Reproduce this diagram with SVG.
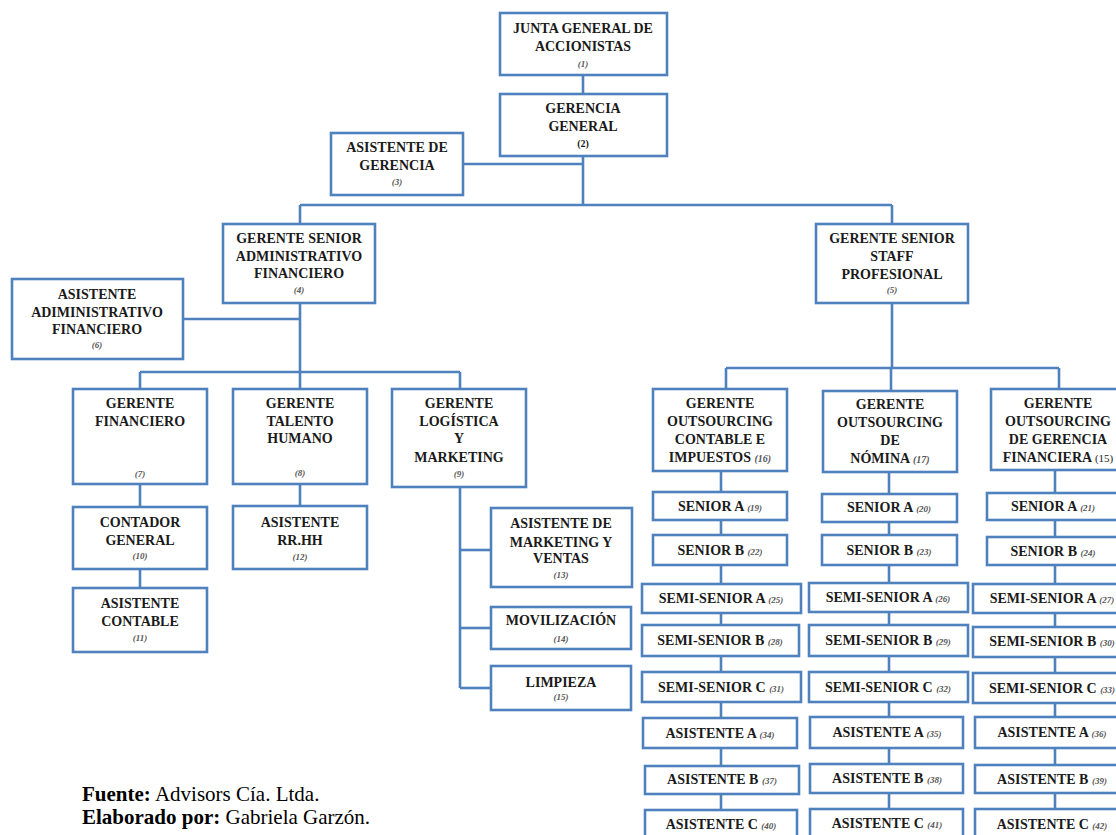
<svg xmlns="http://www.w3.org/2000/svg" width="1116" height="835" viewBox="0 0 1116 835" font-family="Liberation Serif, Times New Roman, serif">
  <style>
    .box { fill: #ffffff; stroke: #4F81BD; stroke-width: 2.6; }
    .wire { fill: none; stroke: #4F81BD; stroke-width: 2.6; }
    .t { font-weight: bold; font-size: 14px; text-anchor: middle; fill: #1a1a1a; }
    .n { font-style: italic; font-size: 9px; fill: #555555; }
    .nr { font-style: normal; font-size: 11px; font-weight: normal; fill: #1a1a1a; }
    .foot { font-size: 21px; fill: #000000; }
  </style>
  <rect width="1116" height="835" fill="#ffffff"/>

  <!-- connectors -->
  <g id="connectors" class="wire">
    <path d="M583 75 V205"/>
    <path d="M463 164 H583"/>
    <path d="M300 205 H892"/>
    <path d="M300 205 V224"/>
    <path d="M892 205 V224"/>
    <!-- administrative branch -->
    <path d="M300 303 V389"/>
    <path d="M183 319 H300"/>
    <path d="M140 372 H460"/>
    <path d="M140 372 V588"/>
    <path d="M460 372 V688"/>
    <path d="M460 550 H491"/>
    <path d="M460 628 H491"/>
    <path d="M460 688 H491"/>
    <path d="M300 484 V506"/>
    <!-- professional staff branch -->
    <path d="M892 303 V368"/>
    <path d="M726 368 H1059"/>
    <path d="M726 368 V389"/>
    <path d="M891 368 V391"/>
    <path d="M1059 368 V389"/>
    <path d="M721 471 V835"/>
    <path d="M889 472 V835"/>
    <path d="M1055 470 V835"/>
  </g>

  <g id="n1"><rect class="box" x="500" y="13" width="167" height="62"/>
    <text class="t" x="583" y="33">JUNTA GENERAL DE</text>
    <text class="t" x="583" y="51">ACCIONISTAS</text>
    <text class="t n" x="583" y="67">(1)</text></g>

  <g id="n2"><rect class="box" x="500" y="94" width="167" height="62"/>
    <text class="t" x="583" y="113">GERENCIA</text>
    <text class="t" x="583" y="131">GENERAL</text>
    <text class="t" x="583" y="147" style="font-size:10px">(2)</text></g>

  <g id="n3"><rect class="box" x="331" y="133" width="132" height="62"/>
    <text class="t" x="397" y="152">ASISTENTE DE</text>
    <text class="t" x="397" y="170">GERENCIA</text>
    <text class="t n" x="397" y="185">(3)</text></g>

  <g id="n4"><rect class="box" x="223" y="224" width="152" height="79"/>
    <text class="t" x="299" y="243">GERENTE SENIOR</text>
    <text class="t" x="299" y="261">ADMINISTRATIVO</text>
    <text class="t" x="299" y="278">FINANCIERO</text>
    <text class="t n" x="299" y="293">(4)</text></g>

  <g id="n5"><rect class="box" x="816" y="224" width="152" height="79"/>
    <text class="t" x="892" y="243">GERENTE SENIOR</text>
    <text class="t" x="892" y="261">STAFF</text>
    <text class="t" x="892" y="279">PROFESIONAL</text>
    <text class="t n" x="892" y="293">(5)</text></g>

  <g id="n6"><rect class="box" x="12" y="279" width="171" height="80"/>
    <text class="t" x="97" y="299">ASISTENTE</text>
    <text class="t" x="97" y="317">ADIMINISTRATIVO</text>
    <text class="t" x="97" y="334">FINANCIERO</text>
    <text class="t n" x="97" y="348">(6)</text></g>

  <g id="n7"><rect class="box" x="73" y="389" width="134" height="95"/>
    <text class="t" x="140" y="408">GERENTE</text>
    <text class="t" x="140" y="426">FINANCIERO</text>
    <text class="t n" x="140" y="477">(7)</text></g>

  <g id="n8"><rect class="box" x="233" y="389" width="134" height="95"/>
    <text class="t" x="300" y="408">GERENTE</text>
    <text class="t" x="300" y="426">TALENTO</text>
    <text class="t" x="300" y="443">HUMANO</text>
    <text class="t n" x="300" y="476">(8)</text></g>

  <g id="n9"><rect class="box" x="392" y="389" width="134" height="98"/>
    <text class="t" x="459" y="408">GERENTE</text>
    <text class="t" x="459" y="426">LOGÍSTICA</text>
    <text class="t" x="459" y="443">Y</text>
    <text class="t" x="459" y="462">MARKETING</text>
    <text class="t n" x="459" y="477">(9)</text></g>

  <g id="n10"><rect class="box" x="73" y="507" width="134" height="62"/>
    <text class="t" x="140" y="527">CONTADOR</text>
    <text class="t" x="140" y="545">GENERAL</text>
    <text class="t n" x="140" y="559">(10)</text></g>

  <g id="n11"><rect class="box" x="73" y="588" width="134" height="64"/>
    <text class="t" x="140" y="608">ASISTENTE</text>
    <text class="t" x="140" y="626">CONTABLE</text>
    <text class="t n" x="140" y="641">(11)</text></g>

  <g id="n12"><rect class="box" x="233" y="506" width="134" height="63"/>
    <text class="t" x="300" y="527">ASISTENTE</text>
    <text class="t" x="300" y="545">RR.HH</text>
    <text class="t n" x="300" y="560">(12)</text></g>

  <g id="n13"><rect class="box" x="491" y="508" width="141" height="79"/>
    <text class="t" x="561" y="528">ASISTENTE DE</text>
    <text class="t" x="561" y="547">MARKETING Y</text>
    <text class="t" x="561" y="563">VENTAS</text>
    <text class="t n" x="561" y="578">(13)</text></g>

  <g id="n14"><rect class="box" x="491" y="607" width="140" height="42"/>
    <text class="t" x="561" y="625">MOVILIZACIÓN</text>
    <text class="t n" x="561" y="642">(14)</text></g>

  <g id="n15"><rect class="box" x="491" y="666" width="140" height="44"/>
    <text class="t" x="561" y="687">LIMPIEZA</text>
    <text class="t n" x="561" y="700">(15)</text></g>

  <!-- outsourcing managers -->
  <g id="n16"><rect class="box" x="653" y="389" width="134" height="82"/>
    <text class="t" x="720" y="408">GERENTE</text>
    <text class="t" x="720" y="426">OUTSOURCING</text>
    <text class="t" x="720" y="444">CONTABLE E</text>
    <text class="t" x="720" y="462">IMPUESTOS <tspan class="n" style="font-size:10px">(16)</tspan></text></g>

  <g id="n17"><rect class="box" x="823" y="391" width="134" height="81"/>
    <text class="t" x="890" y="409">GERENTE</text>
    <text class="t" x="890" y="427">OUTSOURCING</text>
    <text class="t" x="890" y="445">DE</text>
    <text class="t" x="890" y="463">NÓMINA <tspan class="n" style="font-size:10px">(17)</tspan></text></g>

  <g id="n18"><rect class="box" x="991" y="389" width="134" height="81"/>
    <text class="t" x="1058" y="408">GERENTE</text>
    <text class="t" x="1058" y="426">OUTSOURCING</text>
    <text class="t" x="1058" y="444">DE GERENCIA</text>
    <text class="t" x="1058" y="462">FINANCIERA <tspan class="nr">(15)</tspan></text></g>

  <!-- column 1 -->
  <g id="n19"><rect class="box" x="653" y="492" width="134" height="28"/>
    <text class="t" x="720" y="511">SENIOR A  <tspan class="n">(19)</tspan></text></g>
  <g id="n22"><rect class="box" x="653" y="535" width="134" height="30"/>
    <text class="t" x="720" y="555">SENIOR B  <tspan class="n">(22)</tspan></text></g>
  <g id="n25"><rect class="box" x="642" y="584" width="159" height="29"/>
    <text class="t" x="721" y="603">SEMI-SENIOR A  <tspan class="n">(25)</tspan></text></g>
  <g id="n28"><rect class="box" x="642" y="625" width="157" height="31"/>
    <text class="t" x="720" y="645">SEMI-SENIOR B  <tspan class="n">(28)</tspan></text></g>
  <g id="n31"><rect class="box" x="642" y="672" width="159" height="30"/>
    <text class="t" x="721" y="692">SEMI-SENIOR C  <tspan class="n">(31)</tspan></text></g>
  <g id="n34"><rect class="box" x="643" y="718" width="154" height="30"/>
    <text class="t" x="720" y="738">ASISTENTE A  <tspan class="n">(34)</tspan></text></g>
  <g id="n37"><rect class="box" x="645" y="766" width="154" height="28"/>
    <text class="t" x="722" y="784">ASISTENTE B  <tspan class="n">(37)</tspan></text></g>
  <g id="n40"><rect class="box" x="645" y="810" width="152" height="36"/>
    <text class="t" x="721" y="829">ASISTENTE C  <tspan class="n">(40)</tspan></text></g>

  <!-- column 2 -->
  <g id="n20"><rect class="box" x="822" y="494" width="135" height="28"/>
    <text class="t" x="889" y="512">SENIOR A  <tspan class="n">(20)</tspan></text></g>
  <g id="n23"><rect class="box" x="822" y="535" width="135" height="30"/>
    <text class="t" x="889" y="555">SENIOR B  <tspan class="n">(23)</tspan></text></g>
  <g id="n26"><rect class="box" x="809" y="583" width="159" height="29"/>
    <text class="t" x="888" y="602">SEMI-SENIOR A  <tspan class="n">(26)</tspan></text></g>
  <g id="n29"><rect class="box" x="809" y="625" width="159" height="31"/>
    <text class="t" x="888" y="645">SEMI-SENIOR B  <tspan class="n">(29)</tspan></text></g>
  <g id="n32"><rect class="box" x="809" y="672" width="159" height="30"/>
    <text class="t" x="888" y="692">SEMI-SENIOR C  <tspan class="n">(32)</tspan></text></g>
  <g id="n35"><rect class="box" x="810" y="717" width="153" height="31"/>
    <text class="t" x="887" y="737">ASISTENTE A  <tspan class="n">(35)</tspan></text></g>
  <g id="n38"><rect class="box" x="810" y="764" width="153" height="29"/>
    <text class="t" x="887" y="783">ASISTENTE B  <tspan class="n">(38)</tspan></text></g>
  <g id="n41"><rect class="box" x="810" y="809" width="153" height="36"/>
    <text class="t" x="887" y="828">ASISTENTE C  <tspan class="n">(41)</tspan></text></g>

  <!-- column 3 -->
  <g id="n21"><rect class="box" x="987" y="493" width="140" height="27"/>
    <text class="t" x="1053" y="511">SENIOR A <tspan class="n">(21)</tspan></text></g>
  <g id="n24"><rect class="box" x="987" y="537" width="140" height="28"/>
    <text class="t" x="1053" y="556">SENIOR B  <tspan class="n">(24)</tspan></text></g>
  <g id="n27"><rect class="box" x="973" y="584" width="160" height="29"/>
    <text class="t" x="1052" y="603">SEMI-SENIOR A  <tspan class="n">(27)</tspan></text></g>
  <g id="n30"><rect class="box" x="973" y="627" width="160" height="30"/>
    <text class="t" x="1052" y="646">SEMI-SENIOR B  <tspan class="n">(30)</tspan></text></g>
  <g id="n33"><rect class="box" x="973" y="673" width="160" height="30"/>
    <text class="t" x="1052" y="693">SEMI-SENIOR C  <tspan class="n">(33)</tspan></text></g>
  <g id="n36"><rect class="box" x="975" y="717" width="155" height="31"/>
    <text class="t" x="1052" y="737">ASISTENTE A  <tspan class="n">(36)</tspan></text></g>
  <g id="n39"><rect class="box" x="975" y="765" width="155" height="28"/>
    <text class="t" x="1052" y="784">ASISTENTE B <tspan class="n">(39)</tspan></text></g>
  <g id="n42"><rect class="box" x="975" y="809" width="155" height="36"/>
    <text class="t" x="1052" y="829">ASISTENTE C  <tspan class="n">(42)</tspan></text></g>

  <!-- source note -->
  <g id="source">
    <text class="foot" x="82" y="801"><tspan font-weight="bold">Fuente:</tspan> Advisors Cía. Ltda.</text>
    <text class="foot" x="82" y="824"><tspan font-weight="bold">Elaborado por:</tspan> Gabriela Garzón.</text>
  </g>
</svg>
